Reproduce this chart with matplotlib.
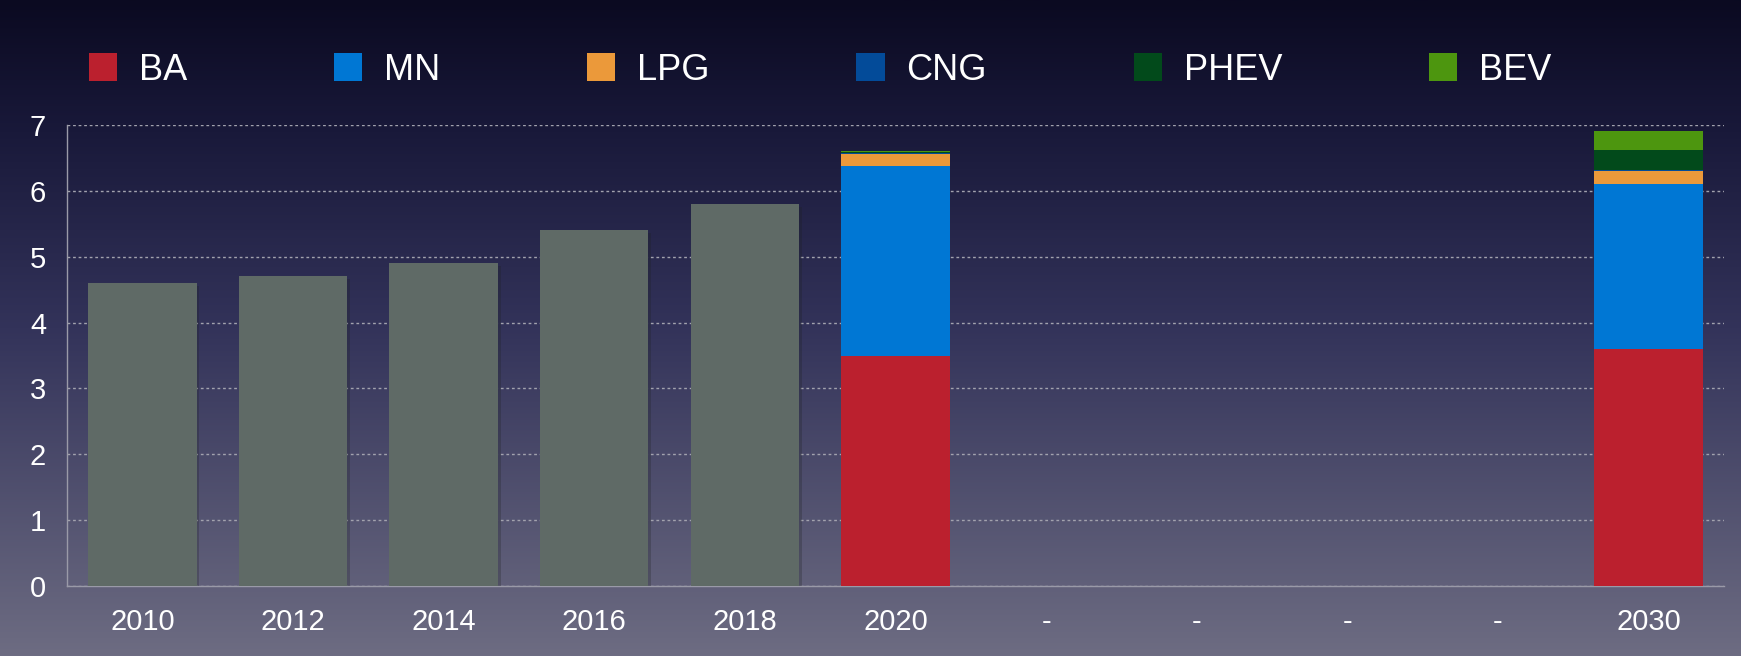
import numpy as np
import matplotlib
matplotlib.use("Agg")
import matplotlib.pyplot as plt
from matplotlib.patches import Patch
from matplotlib.colors import LinearSegmentedColormap
import matplotlib.patheffects as pe

plt.rcParams['font.family'] = ['Liberation Sans', 'DejaVu Sans']

# x categories (one slot per two years, dashes are empty slots)
labels = ['2010', '2012', '2014', '2016', '2018', '2020', '-', '-', '-', '-', '2030']

# historic totals, no split by fuel
hist_idx = [0, 1, 2, 3, 4]
hist_total = [4.6, 4.7, 4.9, 5.4, 5.8]

# split by fuel for 2020 and 2030
split_idx = [5, 10]
fuels = ['BA', 'MN', 'LPG', 'CNG', 'PHEV', 'BEV']
ba = [3.5, 3.6]
mn = [2.88, 2.5]
lpg = [0.18, 0.2]
cng = [0.02, 0.015]
phev = [0.005, 0.3]
bev = [0.015, 0.3]

colors = ['#bb202e', '#0077d4', '#eb993a', '#034b99', '#024a1b', '#4d960f']
gray = '#5f6a66'

fig = plt.figure(figsize=(17.41, 6.56), dpi=100)

# background gradient
bg = fig.add_axes([0, 0, 1, 1], zorder=-10)
cmap = LinearSegmentedColormap.from_list('bg', [
    (0.0, '#0b0a21'), (0.2, '#19193a'), (0.5, '#33335a'), (1.0, '#6d6c82')])
grad = np.linspace(0, 1, 256).reshape(-1, 1)
bg.imshow(grad, aspect='auto', cmap=cmap, extent=[0, 1, 1, 0])
bg.set_axis_off()

ax = fig.add_axes([67 / 1741, 1 - 586 / 656, (1724 - 67) / 1741, (586 - 125) / 656])
ax.set_facecolor('none')

shadow = [pe.SimplePatchShadow(offset=(2, -2), alpha=0.25), pe.Normal()]
w = 0.72
ax.bar(hist_idx, hist_total, width=w, color=gray, zorder=3, path_effects=shadow)

bottom = np.zeros(len(split_idx))
for name, vals, c in zip(fuels, [ba, mn, lpg, cng, phev, bev], colors):
    ax.bar(split_idx, vals, width=w, bottom=bottom, color=c, zorder=3)
    bottom += np.array(vals)

ax.set_xlim(-0.5, 10.5)
ax.set_ylim(0, 7)
ax.set_xticks(range(len(labels)))
ax.set_xticklabels(labels)
ax.set_yticks(range(8))
ax.tick_params(axis='both', length=0, colors='white', labelsize=21)
ax.tick_params(axis='x', pad=16)
ax.tick_params(axis='y', pad=15)
ax.yaxis.grid(True, color='#a2a2ae', linestyle=(0, (2, 2)), linewidth=1, zorder=1)
ax.set_axisbelow(True)
for s in ['top', 'right']:
    ax.spines[s].set_visible(False)
for s in ['left', 'bottom']:
    ax.spines[s].set_color('#9a9aa8')
    ax.spines[s].set_linewidth(1)

handles = [Patch(facecolor=c, label=f) for f, c in zip(fuels, colors)]
fig.legend(handles=handles, loc='center left', bbox_to_anchor=(89 / 1741, 1 - 70 / 656),
           ncol=6, frameon=False, fontsize=26, labelcolor='white',
           handlelength=0.78, handleheight=0.78, handletextpad=0.6,
           columnspacing=4.07, borderpad=0, borderaxespad=0)

fig.savefig('out.png', dpi=100)
